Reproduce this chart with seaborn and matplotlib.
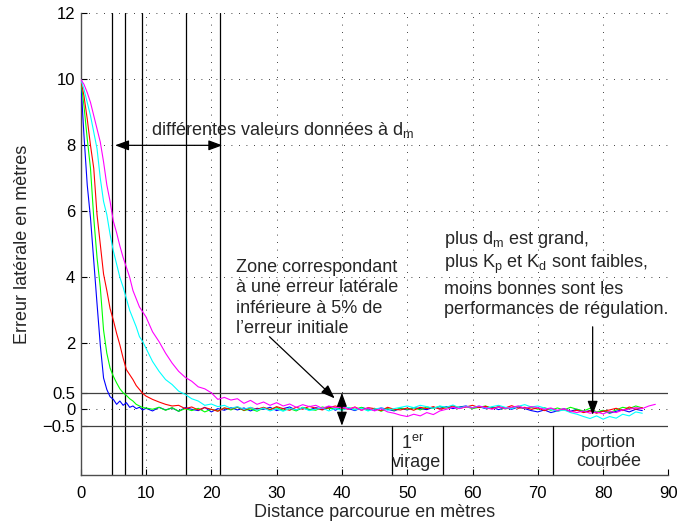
import numpy as np
import pandas as pd
import seaborn as sns
import matplotlib.pyplot as plt

# distance travelled (m), shared by all runs
distance = [0, 0.5, 1, 1.5, 2, 2.5, 3, 3.5, 4, 4.5, 5, 5.5, 6, 6.5, 7, 7.5, 8, 8.5, 9, 9.5,
            10, 11, 12, 13, 14, 15, 16, 17, 18, 19,
            20, 21, 22, 23, 24, 25, 26, 27, 28, 29,
            30, 31, 32, 33, 34, 35, 36, 37, 38, 39,
            40, 41, 42, 43, 44, 45, 46, 47, 48, 49,
            50, 51, 52, 53, 54, 55, 56, 57, 58, 59,
            60, 61, 62, 63, 64, 65, 66, 67, 68, 69,
            70, 71, 72, 73, 74, 75, 76, 77, 78, 79,
            80, 81, 82, 83, 84, 85, 86, 87, 88]

nan = np.nan
# lateral error (m) for each value of d_m
err_blue = [10.0, 8.3, 6.8, 5.8, 4.5, 3.2, 1.95, 0.95, 0.6, 0.38, 0.3, 0.15, 0.25, 0.12, 0.2, 0.06, 0.1, 0.02, 0.06, -0.02,
            0.03, -0.05, 0.06, -0.02, 0.04, -0.06, 0.05, 0.0, -0.04, 0.06,
            -0.08, 0.02, -0.03, 0.05, -0.02, 0.04, -0.05, 0.03, 0.0, 0.06,
            -0.04, 0.02, 0.07, -0.03, 0.04, -0.02, 0.05, 0.0, 0.08, -0.03,
            0.06, 0.02, -0.04, 0.05, 0.01, -0.03, 0.04, 0.0, -0.05, 0.03,
            -0.02, 0.05, 0.02, -0.01, 0.06, 0.03, 0.08, 0.02, 0.07, 0.1,
            0.04, 0.08, 0.02, 0.06, -0.01, 0.05, 0.0, 0.07, 0.02, -0.04,
            -0.08, -0.02, -0.1, -0.05, 0.02, -0.06, 0.0, -0.08, -0.04, -0.1,
            -0.05, -0.12, -0.06, -0.02, -0.08, 0.0, -0.04, nan, nan]
err_green = [10.0, 9.2, 8.2, 7.3, 5.8, 4.6, 3.7, 2.4, 1.7, 1.25, 1.0, 0.8, 0.62, 0.5, 0.42, 0.32, 0.25, 0.15, 0.1, 0.05,
             0.04, 0.0, 0.06, -0.03, 0.05, -0.06, 0.02, -0.04, 0.03, -0.08,
             0.0, -0.05, 0.04, -0.02, 0.06, -0.04, 0.01, -0.06, 0.04, 0.0,
             0.05, -0.03, 0.02, -0.05, 0.06, 0.0, -0.03, 0.07, 0.02, 0.04,
             -0.02, 0.05, 0.0, 0.06, -0.04, 0.03, -0.06, 0.02, -0.03, 0.04,
             0.0, 0.05, -0.02, 0.07, 0.03, 0.09, 0.04, 0.1, 0.05, 0.08,
             0.02, 0.06, 0.1, 0.03, 0.07, 0.01, 0.05, 0.09, 0.03, 0.06,
             0.0, 0.05, -0.03, 0.04, -0.02, 0.06, 0.0, -0.05, 0.03, -0.08,
             -0.03, -0.1, -0.02, 0.06, 0.02, 0.1, 0.04, nan, nan]
err_red = [10.0, 9.5, 8.8, 8.0, 7.3, 5.9, 5.0, 4.1, 3.6, 3.05, 2.7, 2.3, 1.95, 1.55, 1.2, 1.05, 0.9, 0.72, 0.6, 0.48,
           0.4, 0.3, 0.22, 0.15, 0.1, 0.12, 0.02, 0.07, -0.02, 0.05,
           0.0, -0.06, 0.04, 0.01, 0.07, -0.03, 0.05, 0.0, 0.06, -0.02,
           0.08, 0.02, -0.03, 0.06, 0.0, 0.09, 0.03, -0.02, 0.05, 0.1,
           0.04, 0.0, 0.07, -0.03, 0.05, 0.02, -0.04, 0.06, 0.0, -0.02,
           0.04, -0.03, 0.06, 0.02, 0.08, 0.0, 0.05, 0.1, 0.03, 0.07,
           0.12, 0.05, 0.09, 0.02, 0.08, 0.04, 0.11, 0.03, 0.06, 0.0,
           0.04, -0.04, 0.02, -0.06, 0.0, -0.08, -0.03, -0.1, -0.05, -0.12,
           -0.06, -0.02, 0.03, -0.04, 0.07, 0.0, 0.05, nan, nan]
err_cyan = [10.0, 9.7, 9.3, 8.9, 8.4, 7.9, 7.0, 6.3, 5.9, 5.3, 4.8, 4.4, 4.0, 3.7, 3.35, 3.0, 2.75, 2.5, 2.2, 2.05,
            1.85, 1.45, 1.15, 0.9, 0.75, 0.55, 0.45, 0.32, 0.25, 0.12,
            0.16, 0.08, 0.12, 0.03, 0.08, 0.0, 0.06, -0.03, 0.04, -0.05,
            0.02, -0.06, 0.03, -0.02, 0.05, -0.04, 0.0, 0.04, -0.05, 0.02,
            -0.03, 0.05, -0.02, 0.03, -0.05, 0.01, 0.04, -0.03, 0.02, 0.06,
            0.1, 0.05, 0.12, 0.08, 0.03, 0.1, 0.06, 0.13, 0.04, 0.09,
            0.05, 0.1, 0.03, 0.08, 0.12, 0.06, 0.02, 0.09, 0.14, 0.07,
            0.1, 0.04, 0.0, -0.06, -0.02, -0.1, -0.15, -0.22, -0.28, -0.2,
            -0.3, -0.22, -0.27, -0.15, -0.2, -0.08, -0.12, nan, nan]
err_magenta = [10.0, 9.85, 9.6, 9.3, 8.9, 8.5, 8.1, 7.5, 6.8, 6.3, 5.7, 5.35, 4.95, 4.6, 4.3, 4.0, 3.6, 3.35, 3.1, 2.95,
               2.8, 2.35, 2.05, 1.7, 1.4, 1.15, 0.97, 0.85, 0.68, 0.62,
               0.5, 0.3, 0.36, 0.28, 0.32, 0.18, 0.27, 0.15, 0.22, 0.12,
               0.2, 0.1, 0.16, 0.06, 0.14, 0.08, 0.12, 0.03, 0.1, 0.05,
               0.08, 0.0, 0.06, -0.03, 0.04, -0.05, 0.02, -0.08, -0.12, -0.18,
               -0.22, -0.15, -0.2, -0.1, -0.16, -0.05, 0.0, 0.06, 0.02, 0.08,
               0.04, 0.1, 0.05, 0.0, 0.07, 0.02, 0.06, 0.1, 0.03, 0.08,
               0.05, 0.0, 0.04, -0.03, 0.02, -0.06, -0.1, -0.05, -0.12, -0.08,
               -0.14, -0.06, -0.1, -0.02, 0.0, 0.05, 0.02, 0.1, 0.15]

runs = ["blue", "green", "red", "cyan", "magenta"]
run_errors = [err_blue, err_green, err_red, err_cyan, err_magenta]
run_colors = ["#0000ff", "#00ff00", "#ff0000", "#00ffff", "#ff00ff"]

dm_lines = [4.75, 6.8, 9.45, 16.1, 21.3]
zone_bounds = [-0.5, 0.5]
virage_bounds = [47.6, 55.5]
courbe_start = [72.4]

yticks = [-0.5, 0, 0.5, 2, 4, 6, 8, 10, 12]
ytick_labels = ["\u22120.5", "0", "0.5", "2", "4", "6", "8", "10", "12"]
xticks = [0, 10, 20, 30, 40, 50, 60, 70, 80, 90]

sns.set_style("white")
plt.rcParams["font.family"] = ["Liberation Sans", "DejaVu Sans"]
plt.rcParams["mathtext.fontset"] = "custom"
plt.rcParams["mathtext.rm"] = "Liberation Sans"
plt.rcParams["mathtext.it"] = "Liberation Sans"
plt.rcParams["font.size"] = 13
TXT = 13

df = pd.DataFrame({
    "distance": np.tile(distance, len(runs)),
    "erreur": np.concatenate(run_errors),
    "run": np.repeat(runs, len(distance)),
}).dropna()

fig = plt.figure(figsize=(6.77, 5.24), dpi=100)
ax = fig.add_axes([0.1192, 0.093, 0.8681, 0.8815])

grid_style = dict(color="black", lw=0.6, linestyle=(0, (1, 8)), zorder=0)
for gx in xticks[1:]:
    ax.axvline(gx, **grid_style)
for gy in yticks:
    ax.axhline(gy, **grid_style)

sns.lineplot(data=df, x="distance", y="erreur", hue="run", hue_order=runs,
             palette=dict(zip(runs, run_colors)), estimator=None, sort=False,
             lw=0.8, legend=False, ax=ax, zorder=3)

for xv in dm_lines:
    ax.axvline(xv, color="black", lw=0.9, zorder=2)
for yv in zone_bounds:
    ax.axhline(yv, color="0.25", lw=0.9, zorder=2)
for xv in virage_bounds + courbe_start:
    ax.plot([xv, xv], [-2, zone_bounds[0]], color="black", lw=0.9, zorder=2)

ax.set_xlim(0, 90)
ax.set_ylim(-2, 12)
ax.set_xticks(xticks)
ax.set_yticks(yticks)
ax.set_yticklabels(ytick_labels)
ax.tick_params(direction="in", length=4, width=0.8, labelsize=12,
               colors="black", left=True, bottom=True)
ax.tick_params(axis="x", pad=8)
ax.tick_params(axis="y", pad=4)
for side in ["top", "right"]:
    ax.spines[side].set_visible(False)
for side in ["left", "bottom"]:
    ax.spines[side].set_color("0.3")
    ax.spines[side].set_linewidth(1.0)

ax.set_xlabel("Distance parcourue en mètres", fontsize=TXT)
ax.set_ylabel("Erreur latérale en mètres", fontsize=TXT)
ax.xaxis.set_label_coords(0.5, -0.062)
ax.yaxis.set_label_coords(-0.085, 0.5)

head = dict(color="black", lw=0.9, shrinkA=0, shrinkB=0, mutation_scale=14)
ax.annotate("", xy=(21.7, 8), xytext=(5.25, 8),
            arrowprops=dict(arrowstyle="<|-|>,head_length=0.6,head_width=0.22", **head))
ax.annotate("", xy=(40, 0.5), xytext=(40, -0.5),
            arrowprops=dict(arrowstyle="<|-|>,head_length=0.6,head_width=0.22", **head))
ax.annotate("", xy=(38.9, 0.33), xytext=(28.9, 2.2),
            arrowprops=dict(arrowstyle="-|>,head_length=0.6,head_width=0.22", **head))
ax.annotate("", xy=(78.4, -0.17), xytext=(78.4, 2.5),
            arrowprops=dict(arrowstyle="-|>,head_length=0.6,head_width=0.22", **head))

ax.text(10.7, 8.31, r"différentes valeurs données à d$_{\mathrm{m}}$", va="baseline", fontsize=TXT)

zone_text = ["Zone correspondant", "à une erreur latérale",
             "inférieure à 5% de", "l\u2019erreur initiale"]
for i, line in enumerate(zone_text):
    ax.text(23.75, 4.17 - 0.62 * i, line, va="baseline", fontsize=TXT)

perf_text = [r"plus d$_{\mathrm{m}}$ est grand,",
             r"plus K$_{\mathrm{p}}$ et K$_{\mathrm{d}}$ sont faibles,",
             "moins bonnes sont les",
             "performances de régulation."]
perf_y = [5.01, 4.28, 3.5, 2.88]
for line, yv in zip(perf_text, perf_y):
    ax.text(55.6, yv, line, va="baseline", fontsize=TXT)

ax.text(50.8, -1.19, r"1$^{\mathrm{er}}$", ha="center", va="baseline", fontsize=TXT)
ax.text(51.5, -1.75, "virage", ha="center", va="baseline", fontsize=TXT)
ax.text(80.8, -1.15, "portion", ha="center", va="baseline", fontsize=TXT)
ax.text(80.8, -1.71, "courbée", ha="center", va="baseline", fontsize=TXT)

fig.savefig("out.png", dpi=100)
